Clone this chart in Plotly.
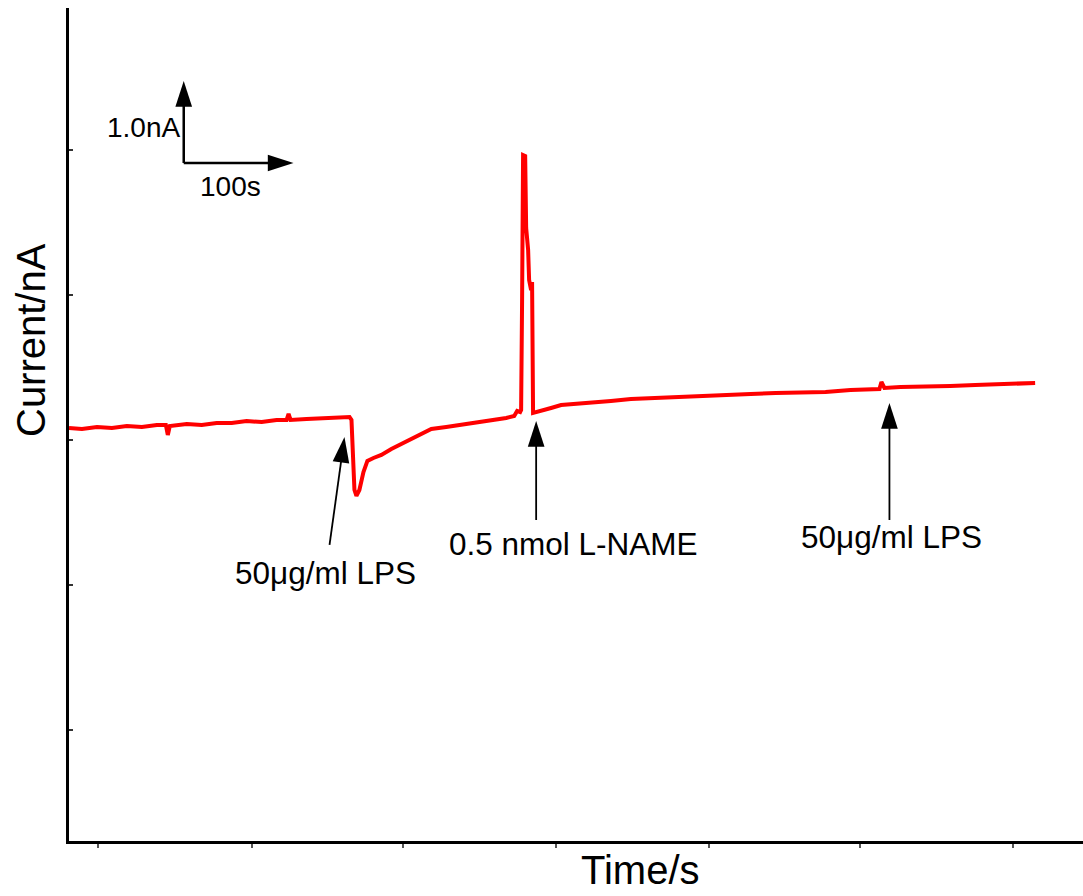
import plotly.graph_objects as go

# ---- data (time in s, current in nA relative to starting baseline) ----
time_s = [0, 11.8, 25.5, 39.1, 52.7, 66.4, 80.0, 88.2, 90.0, 91.8, 107.3, 120.9, 134.5, 148.2,
          161.8, 175.5, 189.1, 198.2, 200.0, 201.8, 216.4, 230.0, 243.6, 255.5, 257.3, 258.2,
          260.0, 261.8, 264.5, 268.2, 271.8, 277.3, 284.5, 293.6, 302.7, 311.8, 320.9, 330.0,
          343.6, 357.3, 370.9, 384.5, 398.2, 405.5, 408.2, 410.9, 411.8, 412.7, 413.6, 415.5,
          416.4, 418.2, 419.1, 420.9, 421.8, 422.7, 430.0, 439.1, 448.2, 461.8, 475.5, 493.6,
          511.8, 530.0, 552.7, 575.5, 598.2, 620.9, 643.6, 666.4, 689.1, 711.8, 730.0, 738.2,
          740.0, 742.7, 757.3, 780.0, 802.7, 825.5, 848.2, 866.4, 880.0]
current_nA = [0, -0.012, 0.012, 0, 0.024, 0.012, 0.037, 0.037, -0.085, 0.024, 0.049, 0.037,
              0.061, 0.061, 0.085, 0.073, 0.098, 0.098, 0.171, 0.098, 0.110, 0.122, 0.134,
              0.134, 0.098, -0.268, -0.756, -0.829, -0.756, -0.537, -0.402, -0.366, -0.329,
              -0.256, -0.195, -0.122, -0.073, -0.012, 0.012, 0.037, 0.061, 0.085, 0.122,
              0.146, 0.207, 0.195, 0.220, 1.561, 3.329, 3.317, 2.439, 2.171, 1.805, 1.683,
              1.780, 0.183, 0.207, 0.244, 0.280, 0.293, 0.317, 0.329, 0.354, 0.366, 0.378,
              0.390, 0.402, 0.415, 0.427, 0.427, 0.439, 0.463, 0.476, 0.476, 0.561, 0.488,
              0.500, 0.512, 0.512, 0.524, 0.537, 0.537, 0.549]

# event labels: text, label position, arrow tail, arrow tip
event_text = ["50\u03bcg/ml LPS", "0.5 nmol L-NAME", "50\u03bcg/ml LPS"]
event_label_t = [233.2, 459.5, 749.5]
event_label_i = [-1.768, -1.415, -1.329]
arrow_tail_t = [237.3, 425.5, 747.3]
arrow_tail_i = [-1.427, -1.122, -1.122]
arrow_tip_t = [250.9, 425.5, 747.3]
arrow_tip_i = [-0.110, 0.085, 0.305]

# scale bar
scale_origin_t = 104.5
scale_origin_i = 3.232
scale_dt = 100.0   # s
scale_di = 1.0     # nA

x_ticks = [26.4, 166.4, 304.5, 443.6, 582.7, 720.9, 860.0]
y_ticks = [3.390, 1.622, -0.146, -1.915, -3.683]
x_range = [0, 923.6]
y_range = [-5.037, 5.122]

FONT = "Arial, 'Liberation Sans', sans-serif"

fig = go.Figure()
fig.add_trace(go.Scatter(x=time_s, y=current_nA, mode="lines",
                         line=dict(color="#ff0000", width=4), hoverinfo="skip"))

ARROW_MARKER = dict(symbol="arrow", size=[0, 27], angleref="previous", color="#000000",
                    opacity=1, line=dict(width=0, color="#000000"))

# event arrows
for k in range(len(event_text)):
    fig.add_trace(go.Scatter(
        x=[arrow_tail_t[k], arrow_tip_t[k]], y=[arrow_tail_i[k], arrow_tip_i[k]],
        mode="lines+markers", line=dict(color="black", width=1.8),
        marker=ARROW_MARKER, hoverinfo="skip"))
    fig.add_annotation(x=event_label_t[k], y=event_label_i[k], text=event_text[k],
                       showarrow=False, xanchor="center", yanchor="middle",
                       font=dict(family=FONT, size=31.5, color="black"))

# scale bar arrows
fig.add_trace(go.Scatter(
    x=[scale_origin_t, scale_origin_t], y=[scale_origin_i, scale_origin_i + scale_di],
    mode="lines+markers", line=dict(color="black", width=2.5),
    marker=ARROW_MARKER, hoverinfo="skip"))
fig.add_trace(go.Scatter(
    x=[scale_origin_t, scale_origin_t + scale_dt], y=[scale_origin_i, scale_origin_i],
    mode="lines+markers", line=dict(color="black", width=2.5),
    marker=ARROW_MARKER, hoverinfo="skip"))
fig.add_annotation(x=68.2, y=3.659, text="1.0nA", showarrow=False,
                   xanchor="center", yanchor="middle",
                   font=dict(family=FONT, size=28, color="black"))
fig.add_annotation(x=147.3, y=2.951, text="100s", showarrow=False,
                   xanchor="center", yanchor="middle",
                   font=dict(family=FONT, size=28, color="black"))

# axis titles (placed off-centre as in the original)
fig.add_annotation(xref="paper", yref="paper", x=0.564, y=-0.035, text="Time/s",
                   showarrow=False, xanchor="center", yanchor="middle",
                   font=dict(family=FONT, size=40, color="black"))
fig.add_annotation(xref="paper", yref="paper", x=-0.0375, y=0.6014, text="Current/nA",
                   textangle=-90, showarrow=False, xanchor="center", yanchor="middle",
                   font=dict(family=FONT, size=40, color="black"))

fig.update_layout(
    width=1083, height=896,
    margin=dict(l=69, r=0, t=8, b=55),
    paper_bgcolor="white", plot_bgcolor="white",
    showlegend=False,
    xaxis=dict(range=x_range, showline=True, linewidth=3, linecolor="black",
               showgrid=False, zeroline=False, ticks="outside", ticklen=4, tickwidth=1.5,
               tickcolor="#555555", tickvals=x_ticks, showticklabels=False),
    yaxis=dict(range=y_range, showline=True, linewidth=3, linecolor="black",
               showgrid=False, zeroline=False, ticks="inside", ticklen=4, tickwidth=1.5,
               tickcolor="#333333", tickvals=y_ticks, showticklabels=False),
)

fig.write_html("out.html")
